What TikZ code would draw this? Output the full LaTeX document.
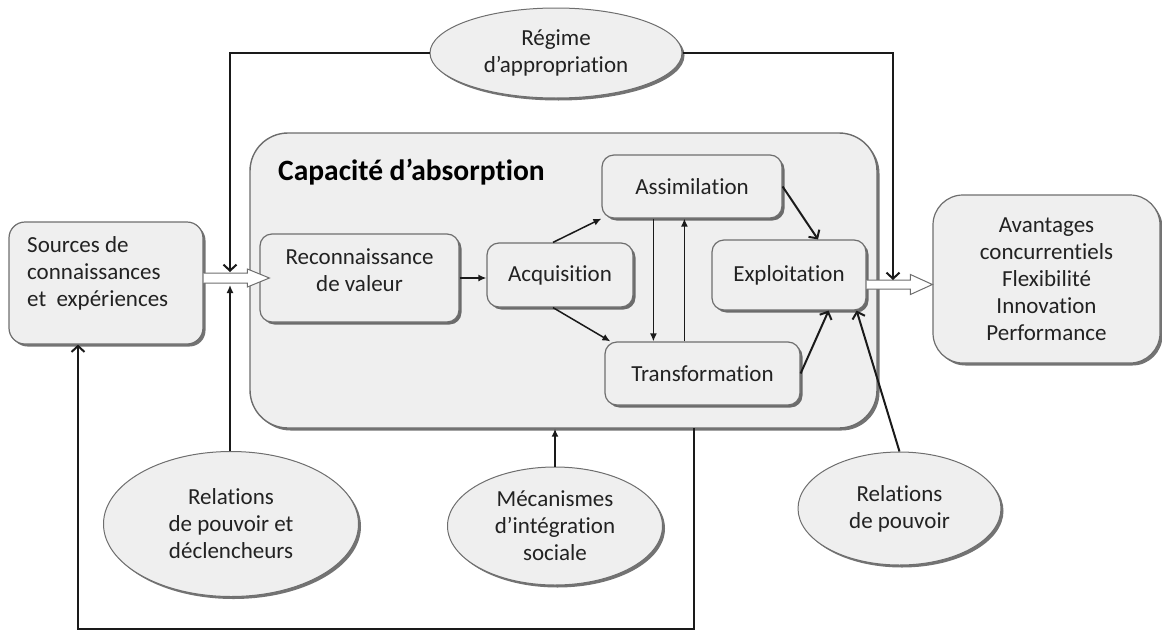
\documentclass[tikz,border=0pt]{standalone}
\usepackage{fontspec}
\setmainfont{Carlito}[Ligatures=NoCommon]
\usetikzlibrary{shapes.geometric,arrows.meta,shadows,calc}
\definecolor{boxfill}{HTML}{EFEFEF}
\definecolor{boxline}{HTML}{6E6E6E}
\definecolor{txt}{HTML}{222222}
\definecolor{lineblk}{HTML}{1A1A1A}
\tikzset{
 shad/.style={drop shadow={shadow xshift=2.5pt,shadow yshift=-2.5pt,fill=black,opacity=0.55}},
 rbox/.style={draw=boxline, line width=1.2pt, fill=boxfill, rounded corners=12pt, shad, inner sep=0pt, text=txt, align=center, font=\fontsize{23}{27}\selectfont},
 ell/.style={ellipse, draw=boxline, line width=1pt, fill=boxfill, shad, inner sep=0pt, text=txt, align=center, font=\fontsize{23}{27}\selectfont},
 lbl/.style={text=txt, font=\fontsize{23}{27}\selectfont, inner sep=0pt},
 conn/.style={draw=lineblk, line width=2pt},
 barb/.style={conn, -{Straight Barb[length=6pt,width=13pt,line width=2pt]}},
 tri/.style={draw=lineblk, line width=1.5pt, -{Latex[length=8pt,width=7pt]}},
 hollow/.style={draw=boxline, line width=1pt, fill=white},
}
\begin{document}
\begin{tikzpicture}[x=1pt,y=-1pt]
\useasboundingbox (0,0) rectangle (1162,632);
% big box
\node[rbox, rounded corners=38pt, draw=gray!85!black, line width=1.4pt, minimum width=627pt, minimum height=295pt] (big) at (563.5,280.5) {};
\node[font=\fontsize{29.5}{33}\selectfont\bfseries, text=black, anchor=west, inner sep=0pt] (title) at (278,172) {Capacité d’absorption};
% boxes
\node[rbox, rounded corners=16pt, minimum width=194pt, minimum height=122pt] (src) at (106,283) {};
\node[lbl, anchor=west, align=left] (srct) at (27,273.5) {Sources de\\connaissances\\et~ expériences};
\node[rbox, minimum width=199pt, minimum height=88pt] (rec) at (359.5,278) {};
\node[lbl, align=center] (rect) at (359.5,270.5) {Reconnaissance\\de valeur};
\node[rbox, minimum width=146pt, minimum height=64pt] (acq) at (560,275) {Acquisition};
\node[rbox, minimum width=180pt, minimum height=63pt] (asm) at (692,186.5) {Assimilation};
\node[rbox, minimum width=154pt, minimum height=70pt] (exp) at (789,275) {Exploitation};
\node[rbox, minimum width=195pt, minimum height=63pt] (trf) at (702.5,373.5) {Transformation};
\node[rbox, rounded corners=30pt, minimum width=227pt, minimum height=168pt] (av) at (1046.5,279) {Avantages\\concurrentiels\\Flexibilité\\Innovation\\Performance};
% ellipses
\node[ell, minimum width=252pt, minimum height=90pt] (reg) at (556,53) {Régime\\d’appropriation};
\node[ell, minimum width=255pt, minimum height=145pt] (rel1) at (231,524) {Relations\\de pouvoir et\\déclencheurs};
\node[ell, minimum width=215pt, minimum height=118pt] (meca) at (555,526) {Mécanismes\\d’intégration\\sociale};
\node[ell, minimum width=203pt, minimum height=113pt] (rel2) at (899.5,508.5) {Relations\\de pouvoir};
% coordinates
\coordinate (inL) at (230,272);
\coordinate (inL2) at (230,285);
\coordinate (inR) at (893,280);
\coordinate (fb) at (694,428);
\coordinate (bl) at (78,629);
% inner connectors
\draw[tri] (rec.east) -- (rec.east -| acq.west);
\draw[tri] ($(acq.north)+(-7,0)$) -- (asm.south west);
\draw[tri] ($(acq.south)+(-7,0)$) -- ($(trf.north west)+(6,0)$);
\draw[tri] ($(asm.south west)+(52,0)$) -- ($(trf.north west)+(49,0)$);
\draw[tri] ($(trf.north west)+(80,0)$) -- ($(asm.south west)+(83,0)$);
\draw[barb] (asm.east) -- ($(exp.north)+(29,0)$);
\draw[barb] (trf.east) -- ($(exp.south east)+(-38,0)$);
\draw[barb] (rel2.north) -- ($(exp.south east)+(-10,0)$);
\draw[tri] (meca.north) -- (meca.north |- big.south);
\draw[barb] (fb) |- (bl) -- (bl |- src.south);
% hollow arrows
\coordinate (h1) at (src.east |- rec.west);
\coordinate (h2) at ($(rec.west)+(10,0)$);
\draw[hollow] ($(h1)+(0,-5)$) -- ($(h2)+(-22,-5)$) -- ($(h2)+(-22,-9)$) -- (h2) -- ($(h2)+(-22,9)$) -- ($(h2)+(-22,5)$) -- ($(h1)+(0,5)$);
\coordinate (h3) at ($(exp.east)+(0,9.5)$);
\coordinate (h4) at (av.west |- h3);
\draw[hollow] ($(h3)+(0,-4.5)$) -- ($(h4)+(-22,-4.5)$) -- ($(h4)+(-22,-10)$) -- (h4) -- ($(h4)+(-22,10)$) -- ($(h4)+(-22,4.5)$) -- ($(h3)+(0,4.5)$);
% outer feedback
\draw[barb] (reg.west) -| (inL);
\draw[barb] (reg.east) -| (inR);
\draw[tri] (inL2 |- rel1.north) -- (inL2);
\end{tikzpicture}
\end{document}
